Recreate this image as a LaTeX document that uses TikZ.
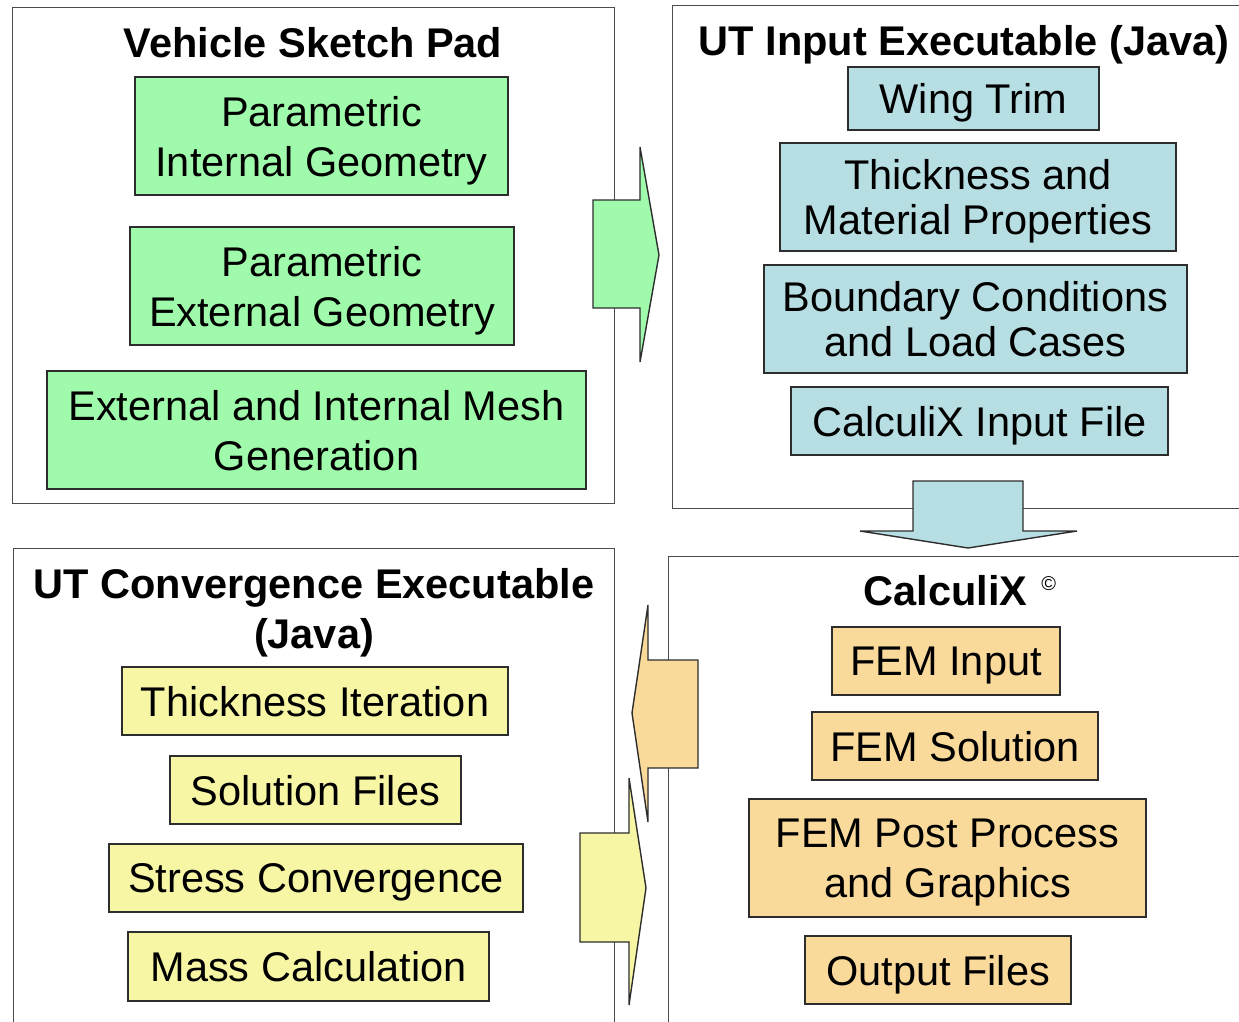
\documentclass[tikz,border=0pt]{standalone}
\usepackage{fontspec}
\setmainfont{Liberation Sans}
\usepackage{xcolor}
\usepackage{tikz}
\usetikzlibrary{positioning}

\definecolor{vspgreen}{RGB}{160,250,172}
\definecolor{utblue}{RGB}{183,222,226}
\definecolor{convyellow}{RGB}{247,246,165}
\definecolor{ccxorange}{RGB}{250,218,155}
\definecolor{edge}{RGB}{45,45,45}

\begin{document}
\begin{tikzpicture}[
				x = 1pt, y = -1pt,
				every node/.style = {font=\fontsize{41.5}{50}\selectfont},
				panel/.style = {draw=edge!85, line width=1.4pt, anchor=north west, inner sep=0pt},
				paneltitle/.style = {anchor=base, font=\fontsize{41.5}{50}\selectfont\bfseries, align=center},
				box/.style = {draw=edge, line width=1.4pt, align=center, inner sep=0pt, text depth=0pt},
				gbox/.style = {box, fill=vspgreen},
				bbox/.style = {box, fill=utblue, font=\fontsize{41.5}{45}\selectfont},
				ybox/.style = {box, fill=convyellow},
				obox/.style = {box, fill=ccxorange},
				bigarrow/.style = {draw=edge, line width=1.4pt, line join=miter}
				]
				\useasboundingbox (0,0) rectangle (1239,1021);
				\clip (0,0) rectangle (1239,1021);
				
				% the four panels
				\node [panel, minimum width=602pt, minimum height=496pt] (vsp) at (12,7) {};
				\node [panel, minimum width=578pt, minimum height=503pt] (utin) at (672,5) {};
				\node [panel, minimum width=601pt, minimum height=482pt] (utconv) at (13,548) {};
				\node [panel, minimum width=582pt, minimum height=474pt] (ccx) at (668,556) {};
				
				\node [paneltitle] (vsptitle) at (313,57) {Vehicle Sketch Pad};
				\node [paneltitle] (utintitle) at (964,55) {UT Input Executable (Java)};
				\node [paneltitle] (utconvtitle) at (314,648) {UT Convergence Executable\\(Java)};
				\node [paneltitle] (ccxtitle) at (960,605) {CalculiX\,\,\raisebox{0.36em}{\fontsize{20}{20}\selectfont\mdseries ©}};
				
				% arrows between the panels
				\draw [bigarrow, fill=vspgreen] (593,200) -- (640,200) -- (640,147) -- (659,255) -- (640,362) -- (640,308) -- (593,308) -- cycle;
				\draw [bigarrow, fill=utblue] (913,481) -- (1023,481) -- (1023,531) -- (1077,531) -- (968,548) -- (860,531) -- (913,531) -- cycle;
				\draw [bigarrow, fill=ccxorange] (698,660) -- (648,660) -- (648,605) -- (632,713) -- (648,822) -- (648,768) -- (698,768) -- cycle;
				\draw [bigarrow, fill=convyellow] (580,833) -- (629,833) -- (629,778) -- (646,888) -- (629,1005) -- (629,942) -- (580,942) -- cycle;
				
				% Vehicle Sketch Pad
				\node [gbox, minimum width=373pt, minimum height=118pt] (pig) at (321.5,136) {Parametric\\Internal Geometry};
				\node [gbox, minimum width=384pt, minimum height=118pt] (peg) at (322,286) {Parametric\\External Geometry};
				\node [gbox, minimum width=539pt, minimum height=118pt] (mesh) at (316.5,430) {External and Internal Mesh\\Generation};
				
				% UT input
				\node [bbox, minimum width=251pt, minimum height=63pt] (trim) at (973.5,98.5) {Wing Trim};
				\node [bbox, minimum width=396pt, minimum height=108pt] (thick) at (978,197) {Thickness and\\Material Properties};
				\node [bbox, minimum width=423pt, minimum height=108pt] (bc) at (975.5,319) {Boundary Conditions\\and Load Cases};
				\node [bbox, minimum width=377pt, minimum height=68pt] (ccxin) at (979.5,421) {CalculiX Input File};
				
				% UT convergence
				\node [ybox, minimum width=386pt, minimum height=68pt] (thiter) at (315,701) {Thickness Iteration};
				\node [ybox, minimum width=291pt, minimum height=68pt] (solfiles) at (315.5,790) {Solution Files};
				\node [ybox, minimum width=414pt, minimum height=68pt] (stress) at (316,878) {Stress Convergence};
				\node [ybox, minimum width=361pt, minimum height=69pt] (mass) at (308.5,966.5) {Mass Calculation};
				
				% CalculiX
				\node [obox, minimum width=228pt, minimum height=68pt] (feminp) at (946,661) {FEM Input};
				\node [obox, minimum width=286pt, minimum height=68pt] (femsol) at (955,746) {FEM Solution};
				\node [obox, minimum width=397pt, minimum height=118pt] (fempost) at (947.5,858) {FEM Post Process\\and Graphics};
				\node [obox, minimum width=266pt, minimum height=68pt] (outfiles) at (938,970) {Output Files};
			\end{tikzpicture}
\end{document}
